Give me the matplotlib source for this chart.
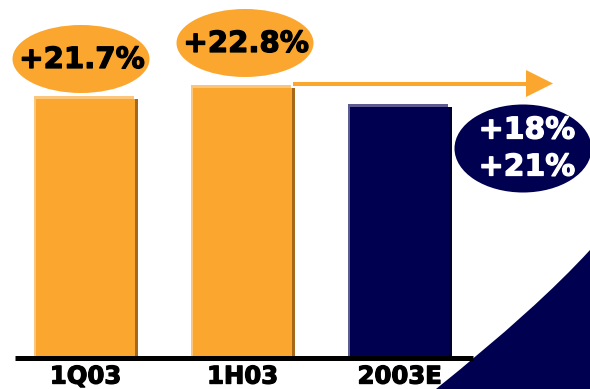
import numpy as np
import matplotlib.pyplot as plt
import matplotlib.transforms as mtransforms
import matplotlib.patheffects as pe
from matplotlib.patches import Ellipse, Polygon, PathPatch
from matplotlib.path import Path

# === data ===
categories = ['1Q03', '1H03', '2003E']
values = [100, 104.3, 96.9]          # relative bar heights (index)
growth = ['+21.7%', '+22.8%']
outlook = ['+18%', '+21%']

W, H = 590, 389
orange, orange_lt, orange_dk = '#FBA72F', '#FBC57A', '#A8681C'
navy, navy_lt, navy_dk = '#000050', '#5C5C92', '#000030'

fig = plt.figure(figsize=(W / 100, H / 100), dpi=100)
ax = fig.add_axes([0, 0, 1, 1])
ax.set_axis_off()

# scales: one category = 157 px, one value unit = 2.57 px, baseline at 33 px from bottom
px_x, px_y = 157.0, 2.57
ax.set_xlim(-87 / px_x, (W - 87) / px_x)
ax.set_ylim(-33 / px_y, (H - 33) / px_y)

# pixel transform (origin top-left) for decorations
pix = mtransforms.Affine2D().scale(1 / W, -1 / H).translate(0, 1) + fig.transFigure

def heavy(c):
    # thicken the bold glyphs a bit (reference uses a heavier face)
    return [pe.withStroke(linewidth=0.9, foreground=c)]

x = np.arange(len(categories))
vals = np.array(values)
face = [orange, orange, navy]
light = [orange_lt, orange_lt, navy_lt]
dark = [orange_dk, orange_dk, navy_dk]

bw = 102 / px_x
# highlight (up-left), body, shadow strip on right
ax.bar(x - 3.5 / px_x, vals + 3 / px_y, width=100 / px_x, color=light, zorder=2)
ax.bar(x, vals, width=bw, color=face, zorder=3)
ax.bar(x + bw / 2 - 1.5 / px_x, vals, width=3 / px_x, color=dark, zorder=3)

# navy swoosh bottom right
verts = [(436, 389), (537, 308), (590, 250), (590, 389), (436, 389)]
codes = [Path.MOVETO, Path.CURVE3, Path.CURVE3, Path.LINETO, Path.CLOSEPOLY]
ax.add_patch(PathPatch(Path(verts, codes), facecolor=navy, edgecolor='none',
                       transform=pix, zorder=4))

# baseline
ax.plot([15, 473], [358.5, 358.5], color='black', lw=3.6, solid_capstyle='butt',
        transform=pix, zorder=5)

for xi, lab in zip(x, categories):
    ax.text(xi - 1.5 / px_x, -8.0, lab, ha='center', va='center', fontsize=17.5,
            fontweight='bold', color='black', zorder=6, path_effects=heavy('black'))

# arrow
ax.plot([293, 530], [84.5, 84.5], color=orange, lw=2.9, solid_capstyle='butt',
        transform=pix, zorder=5)
ax.add_patch(Polygon([(526, 70), (553, 83.5), (526, 97)], closed=True,
                     facecolor=orange, edgecolor='none', transform=pix, zorder=5))

# growth bubbles
for (cx, cy), txt in zip([(81, 59), (245, 43)], growth):
    ax.add_patch(Ellipse((cx, cy), 137, 68, facecolor=orange, edgecolor='none',
                         transform=pix, zorder=5))
    ax.text(cx + 1, cy + 1, txt, ha='center', va='center', fontsize=21,
            fontweight='bold', color='black', transform=pix, zorder=6,
            path_effects=heavy('black'))

ax.add_patch(Ellipse((523, 148.5), 137, 88, facecolor=navy, edgecolor='none',
                     transform=pix, zorder=5))
ax.text(527, 130, outlook[0], ha='center', va='center', fontsize=21.5,
        fontweight='bold', color='white', transform=pix, zorder=6,
        path_effects=heavy('white'))
ax.text(527, 167, outlook[1], ha='center', va='center', fontsize=21.5,
        fontweight='bold', color='white', transform=pix, zorder=6,
        path_effects=heavy('white'))

fig.savefig('out.png', dpi=100)
